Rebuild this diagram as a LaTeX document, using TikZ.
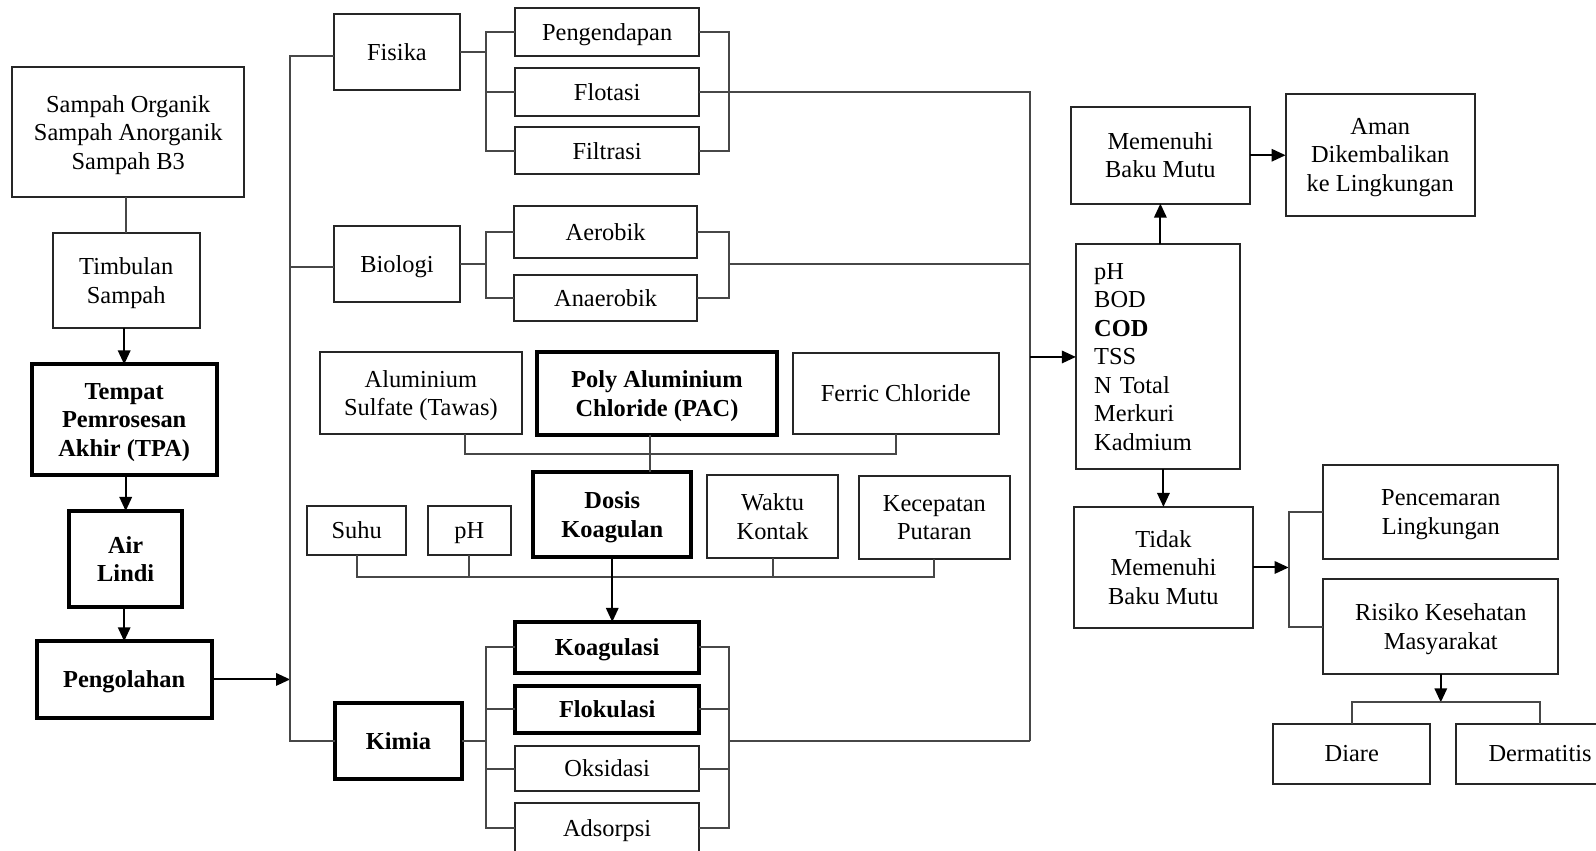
\documentclass[tikz,border=0pt]{standalone}
\usepackage{fontspec}
\setmainfont{Liberation Serif}
\usetikzlibrary{arrows.meta,calc}
\newcommand\bx[7][]{\node[box,#1,minimum width={(#4-#2)*0.509pt},minimum height={(#5-#3)*0.509pt}] (#6) at ({(#2+#4)/2},{(#3+#5)/2}) {#7};}
\begin{document}
\begin{tikzpicture}[x=0.509pt, y=-0.509pt,
  every node/.style={font=\fontsize{12.2}{14.25}\selectfont},
  box/.style={draw=black!85, line width=1pt, inner sep=0pt, outer sep=0pt, align=center, text=black, text depth=-1pt},
  bbox/.style={draw=black, line width=2pt, font=\fontsize{12.2}{14.25}\selectfont\bfseries},
  conn/.style={draw=black!72, line width=1pt},
  arr/.style={draw=black, line width=1pt, -{Triangle[length=7pt,width=6.2pt]}}]
\useasboundingbox (0,0) rectangle (1568,836);
\fill[white] (0,0) rectangle (1568,836);

% left column
\bx{12}{66}{240}{194}{samp}{Sampah Organik\\Sampah Anorganik\\Sampah B3}
\bx{52}{229}{196}{322}{timb}{Timbulan\\Sampah}
\bx[bbox]{31}{358}{213}{467}{tpa}{Tempat\\Pemrosesan\\Akhir (TPA)}
\bx[bbox]{68}{502}{179}{596}{lindi}{Air\\Lindi}
\bx[bbox]{36}{630}{208}{705}{peng}{Pengolahan}

% categories
\bx{328}{14}{452}{88}{fis}{Fisika}
\bx{328}{222}{452}{297}{bio}{Biologi}
\bx[bbox]{329}{691}{454}{765}{kim}{Kimia}

% physical
\bx{506}{8}{687}{55}{pend}{Pengendapan}
\bx{506}{67}{687}{114}{flot}{Flotasi}
\bx{506}{125}{687}{171}{filt}{Filtrasi}
% biological
\bx{505}{202}{685}{253}{aer}{Aerobik}
\bx{505}{270}{685}{315}{anae}{Anaerobik}

% coagulants
\bx{314}{346}{513}{426}{alum}{Aluminium\\Sulfate (Tawas)}
\bx[bbox]{528}{346}{763}{427}{pac}{Poly Aluminium\\Chloride (PAC)}
\bx{779}{347}{981}{426}{fer}{Ferric Chloride}
\bx{302}{497}{399}{545}{suhu}{Suhu}
\bx{420}{497}{502}{545}{ph}{pH}
\bx[bbox]{524}{464}{679}{547}{dos}{Dosis\\Koagulan}
\bx{695}{467}{823}{548}{wak}{Waktu\\Kontak}
\bx{844}{468}{992}{549}{kec}{Kecepatan\\Putaran}

% chemical
\bx[bbox]{506}{611}{687}{661}{koag}{Koagulasi}
\bx[bbox]{506}{674}{687}{720}{flok}{Flokulasi}
\bx{506}{733}{687}{777}{oks}{Oksidasi}
\bx{506}{789}{687}{838}{adso}{Adsorpsi}

% right side
\bx{1052}{105}{1228}{200}{mem}{Memenuhi\\Baku Mutu}
\bx{1263}{92}{1449}{212}{aman}{Aman\\Dikembalikan\\ke Lingkungan}
\bx[align=left, text width=63.6pt, inner xsep=9.16pt, text depth={}, yshift=-0.6pt]{1057}{239}{1218}{460}{par}{pH\\BOD\\\textbf{COD}\\TSS\\N Total\\Merkuri\\Kadmium}
\bx{1055}{498}{1231}{617}{tid}{Tidak\\Memenuhi\\Baku Mutu}
\bx{1300}{457}{1531}{549}{penc}{Pencemaran\\Lingkungan}
\bx{1300}{569}{1531}{662}{risk}{Risiko Kesehatan\\Masyarakat}
\bx{1251}{711}{1405}{770}{diare}{Diare}
\bx{1430}{711}{1596}{770}{derm}{Dermatitis}

% helper coordinates
\coordinate (bus) at (285,0);
\coordinate (fb) at (477,0);
\coordinate (fr) at (716,0);
\coordinate (rv) at (1012,0);
\coordinate (tb) at (1266,0);
\coordinate (cl) at (0,446);
\coordinate (bl) at (0,567);
\coordinate (dl) at (0,690);

% left column connectors
\draw[conn] (timb.north |- samp.south) -- (timb.north);
\draw[arr] (tpa.north |- timb.south) -- (tpa.north);
\draw[arr] (lindi.north |- tpa.south) -- (lindi.north);
\draw[arr] (peng.north |- lindi.south) -- (peng.north);
\draw[arr] (peng.east) -- (bus |- peng.east);
\draw[conn] ($(fis.west)+(0,4)$) -| (bus |- kim.west) -- (kim.west);
\draw[conn] ($(bio.west)+(0,3)$) coordinate (bw) -- (bus |- bw);

% physical
\draw[conn] (fis.east) -- (fb |- fis.east);
\draw[conn] (pend.west) -| (fb |- filt.west) -- (filt.west);
\draw[conn] (flot.west) -- (fb |- flot.west);
\draw[conn] (pend.east) -| (fr |- filt.east) -- (filt.east);
\draw[conn] (flot.east) -- (rv |- flot.east) -- (rv |- kim.east);

% biological
\draw[conn] (bio.east) -- (fb |- bio.east);
\draw[conn] (aer.west) -| (fb |- anae.west) -- (anae.west);
\draw[conn] (aer.east) -| (fr |- anae.east) -- (anae.east);
\draw[conn] (fr |- bio.east) -- (rv |- bio.east);

% chemical
\draw[conn] (kim.east) -- (fb |- kim.east);
\draw[conn] (koag.west) -| (fb |- adso.west) -- (adso.west);
\draw[conn] (flok.west) -- (fb |- flok.west);
\draw[conn] (oks.west) -- (fb |- oks.west);
\draw[conn] (koag.east) -| (fr |- adso.east) -- (adso.east);
\draw[conn] (flok.east) -- (fr |- flok.east);
\draw[conn] (oks.east) -- (fr |- oks.east);
\draw[conn] (fr |- kim.east) -- (rv |- kim.east);
\draw[arr] (rv |- par.west) -- (par.west);

% coagulant factors
\draw[conn] ($(alum.south)+(43,0)$) |- (fer.south |- cl) -- (fer.south);
\draw[conn] ($(pac.south)+(-7,0)$) coordinate (pq) -- (pq |- dos.north);
\draw[conn] (suhu.south) |- (kec.south |- bl) -- (kec.south);
\draw[conn] (ph.south) -- (ph.south |- bl);
\draw[conn] (wak.south) -- (wak.south |- bl);
\draw[arr] (dos.south) -- (dos.south |- koag.north);

% outcomes
\draw[arr] (mem.south |- par.north) -- (mem.south);
\draw[arr] (mem.east) -- (aman.west |- mem.east);
\draw[arr] (tid.north |- par.south) -- (tid.north);
\draw[arr] (tid.east) -- (tb |- tid.east);
\draw[conn] (penc.west) -| (tb |- risk.west) -- (risk.west);
\draw[arr] (risk.south) -- (risk.south |- dl);
\draw[conn] (diare.north) |- (derm.north |- dl) -- (derm.north);
\end{tikzpicture}
\end{document}
